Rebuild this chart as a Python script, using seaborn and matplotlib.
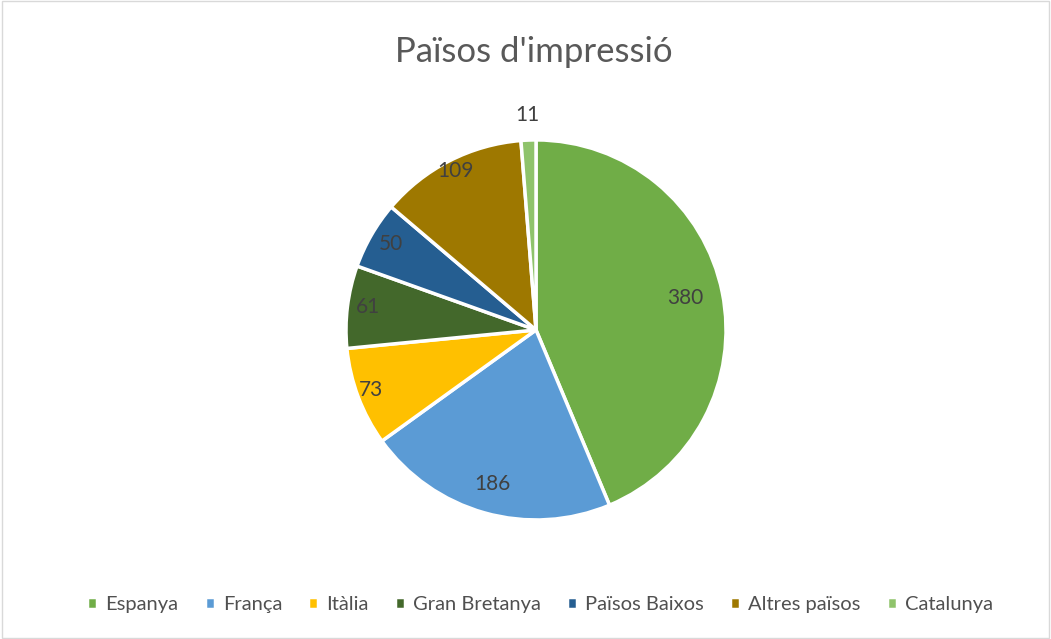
import numpy as np
import matplotlib
matplotlib.use("Agg")
import matplotlib.pyplot as plt
import seaborn as sns

# Dades
paisos = ["Espanya", "França", "Itàlia", "Gran Bretanya", "Països Baixos", "Altres països", "Catalunya"]
valors = [380, 186, 73, 61, 50, 109, 11]
colors = ["#70AD47", "#5B9BD5", "#FFC000", "#43682B", "#255E91", "#9E7800", "#8FC36B"]

# distancia relativa de cada etiqueta al centre
dist_etiquetes = [0.80, 0.85, 0.93, 0.89, 0.88, 0.93, 1.12]

sns.set_theme(style="white")
plt.rcParams['font.family'] = ['Lato', 'DejaVu Sans']

fig = plt.figure(figsize=(10.51, 6.39), dpi=100)
ax = fig.add_axes([0.3292, 0.1863, 0.3616, 0.5947])

wedges, _ = ax.pie(valors, colors=colors, startangle=90, counterclock=False,
                   wedgeprops=dict(edgecolor="white", linewidth=2.5))
ax.set_xlim(-1, 1)
ax.set_ylim(-1, 1)
ax.set_aspect("equal")

for w, v, d in zip(wedges, valors, dist_etiquetes):
    ang = np.deg2rad((w.theta1 + w.theta2) / 2)
    ax.text(d * np.cos(ang), d * np.sin(ang) + 0.01, str(v), ha="center", va="center",
            fontsize=15, color="#404040")

fig.text(0.508, 0.918, "Països d'impressió", ha="center", va="center",
         fontsize=25, color="#595959")

fig.legend(wedges, paisos, loc="center", bbox_to_anchor=(0.514, 0.054), ncol=7,
           frameon=False, fontsize=14.5, handlelength=0.5, handleheight=0.5,
           handletextpad=0.4, columnspacing=1.3, labelcolor="#505050")

# vora del grafic
fig.patches.append(plt.Rectangle((0.002, 0.002), 0.996, 0.996, transform=fig.transFigure,
                                 fill=False, edgecolor="#D9D9D9", linewidth=1))

fig.savefig("out.png", dpi=100)
